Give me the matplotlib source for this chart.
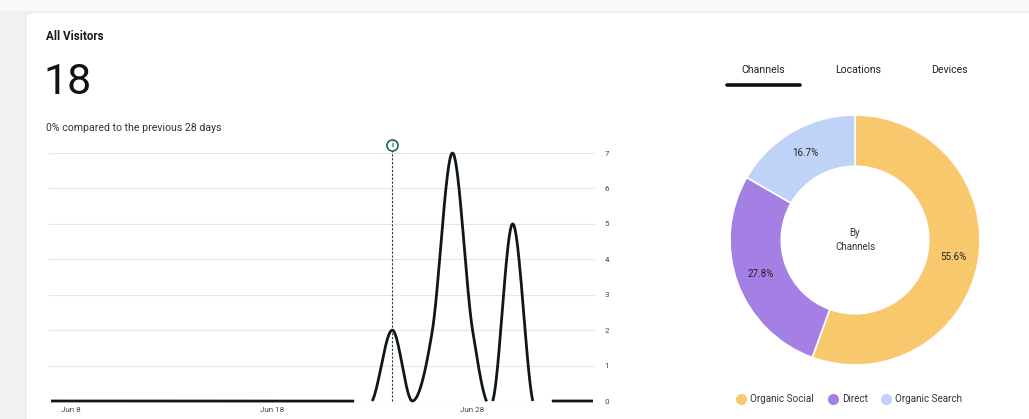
import numpy as np
import matplotlib.pyplot as plt
from matplotlib.patches import FancyBboxPatch, Rectangle

plt.rcParams['font.family'] = ['Roboto', 'DejaVu Sans']

# daily visitors, Jun 7 .. Jul 4
visitors = [0, 0, 0, 0, 0, 0, 0, 0, 0, 0, 0, 0, 0, 0, 0, 0, 0,
            2, 0, 2, 7, 2, 0, 5, 0, 0, 0, 0]
tick_days = [1, 11, 21]
tick_labels = ["Jun 8", "Jun 18", "Jun 28"]
marker_day = 17

channels = ["Organic Social", "Direct", "Organic Search"]
channel_counts = [10, 5, 3]
channel_colors = ["#f8c96c", "#a47fe4", "#bfd3f8"]
tabs = ["Channels", "Locations", "Devices"]

W, H = 1029, 419


def fx(x):
    return x / W


def fy(y):
    return 1 - y / H


def cardinal(values, steps=40):
    # Catmull-Rom curve through the daily points
    p = np.asarray(values, dtype=float)
    n = len(p)
    m = np.zeros(n)
    m[1:-1] = (p[2:] - p[:-2]) / 2
    xs, ys = [], []
    for i in range(n - 1):
        t = np.linspace(0, 1, steps, endpoint=False)
        h00 = 2 * t**3 - 3 * t**2 + 1
        h10 = t**3 - 2 * t**2 + t
        h01 = -2 * t**3 + 3 * t**2
        h11 = t**3 - t**2
        xs.append(i + t)
        ys.append(h00 * p[i] + h10 * m[i] + h01 * p[i + 1] + h11 * m[i + 1])
    xs.append([n - 1])
    ys.append([p[-1]])
    return np.concatenate(xs), np.concatenate(ys)


fig = plt.figure(figsize=(W / 100, H / 100), dpi=100)
fig.patch.set_facecolor("#f1f1f1")
fig.patches.append(Rectangle((0, fy(11)), 1, 1, transform=fig.transFigure,
                             facecolor="#fafafa", edgecolor="none", zorder=-3))
fig.patches.append(FancyBboxPatch((fx(26), -0.1), 1.2, fy(12) + 0.1,
                                  boxstyle="round,pad=0,rounding_size=0.012",
                                  transform=fig.transFigure, facecolor="white",
                                  edgecolor="#e6e6e6", linewidth=0.8, zorder=-2))

fig.text(fx(46), fy(37), "All Visitors", fontsize=8.4, fontweight="bold",
         color="#1a1a1a", va="center")
fig.text(fx(43), fy(83), "18", fontsize=31, color="#111111", va="center")
fig.text(fx(46), fy(128), "0% compared to the previous 28 days", fontsize=7.6,
         color="#333333", va="center")

# line chart
ax = fig.add_axes([fx(49), fy(401), fx(595) - fx(49), fy(153) - fy(401)])
ax.patch.set_alpha(0)
xs, ys = cardinal(visitors)
ys = np.where(ys < -0.01, np.nan, ys)
ax.plot(xs, ys, color="#0d1a14", linewidth=2.0, clip_on=False,
        solid_capstyle="butt", zorder=3)
ax.set_xlim(-0.1, len(visitors) - 0.9)
ax.set_ylim(0, 7)
ax.set_yticks(range(8))
ax.yaxis.tick_right()
ax.grid(axis="y", color="#e6e6e6", linewidth=0.8)
ax.set_xticks(tick_days)
ax.set_xticklabels(tick_labels)
ax.tick_params(axis="both", length=0, labelsize=5.8, labelcolor="#444444")
ax.tick_params(axis="y", pad=7)
ax.tick_params(axis="x", pad=4)
for s in ax.spines.values():
    s.set_visible(False)

ax.plot([marker_day, marker_day], [0, 7.12], color="#333333", linewidth=0.8,
        linestyle=(0, (2, 1.5)), clip_on=False, zorder=2)
ax.plot(marker_day, 7.23, marker="o", markersize=8, markerfacecolor="white",
        markeredgecolor="#0f5a4c", markeredgewidth=1.1, clip_on=False, zorder=4)
ax.text(marker_day, 7.23, "i", fontsize=5.5, fontweight="bold", color="#0f5a4c",
        ha="center", va="center", clip_on=False, zorder=5)

# tabs above the donut
for label, x in zip(tabs, [763, 858, 949]):
    fig.text(fx(x), fy(70), label, fontsize=7.6, color="#222222",
             ha="center", va="center")
fig.lines.append(plt.Line2D([fx(727), fx(800)], [fy(85), fy(85)],
                            transform=fig.transFigure, color="#111111",
                            linewidth=2.6, solid_capstyle="round"))

# donut chart
pax = fig.add_axes([fx(730), fy(365), fx(980) - fx(730), fy(115) - fy(365)])
wedges, _, autotexts = pax.pie(channel_counts, colors=channel_colors,
                               startangle=90, counterclock=False,
                               autopct="%.1f%%", pctdistance=0.8, radius=1,
                               wedgeprops=dict(width=0.41, edgecolor="white",
                                               linewidth=1.2),
                               textprops=dict(fontsize=7, color="#222222"))
pax.set_xlim(-1, 1)
pax.set_ylim(-1, 1)
pax.text(0, 0, "By\nChannels", ha="center", va="center", fontsize=7,
         color="#333333", linespacing=1.4)

# legend row
leg_x = [741, 833, 886]
for name, color, x in zip(channels, channel_colors, leg_x):
    fig.lines.append(plt.Line2D([fx(x)], [fy(399)], transform=fig.transFigure,
                                marker="o", markersize=7, color=color,
                                linestyle="none"))
    fig.text(fx(x + 9), fy(399), name, fontsize=7.1, color="#333333",
             va="center")

fig.savefig("out.png", dpi=100)
